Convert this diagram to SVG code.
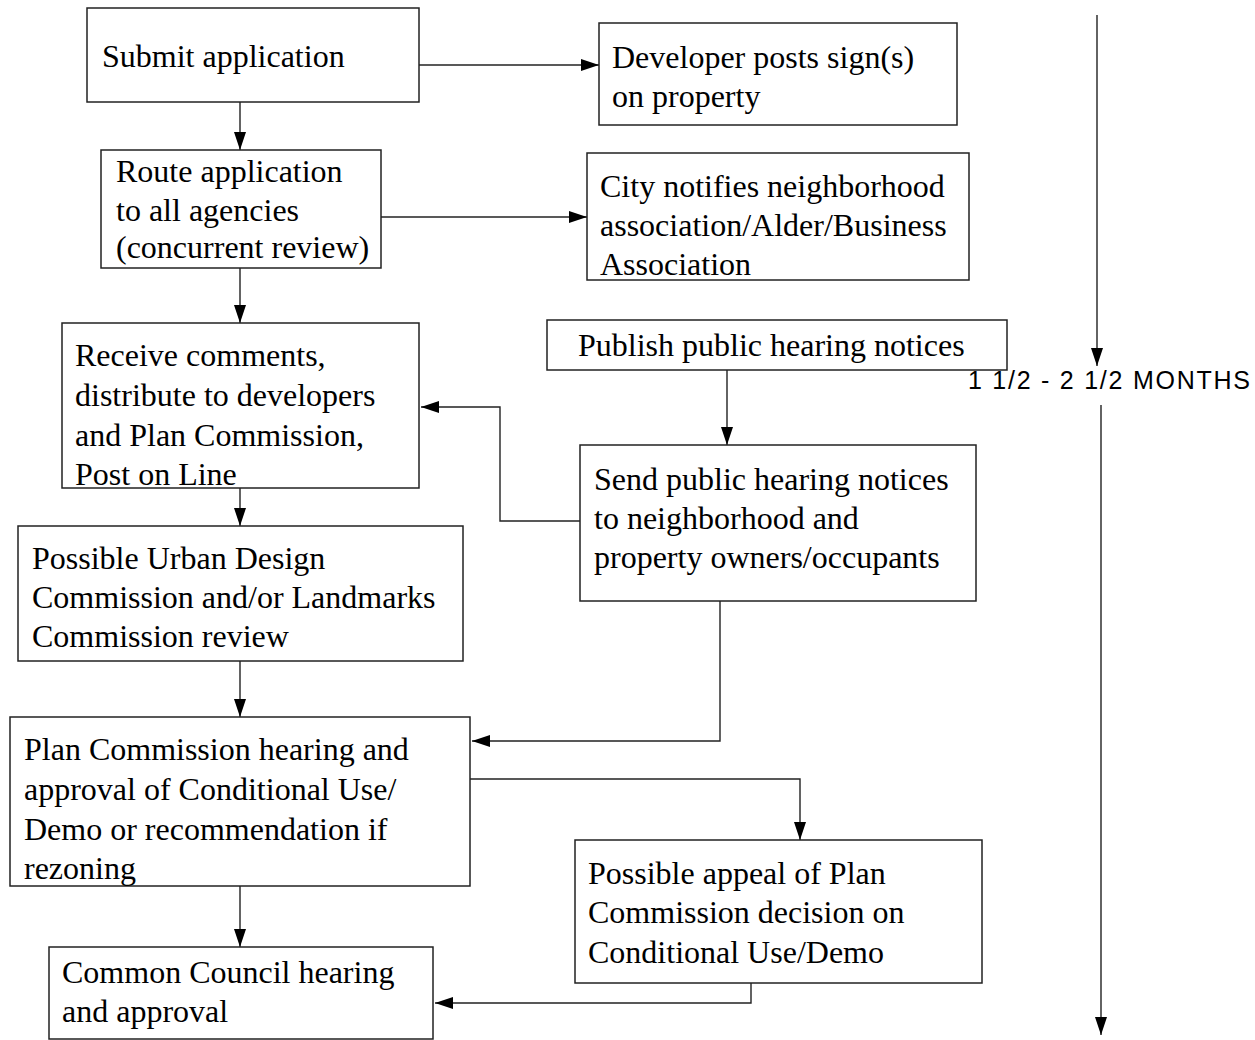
<svg xmlns="http://www.w3.org/2000/svg" width="1255" height="1040" viewBox="0 0 1255 1040">
<style>
.box{fill:#fff;stroke:#222;stroke-width:1.5}
.t{font-family:"Liberation Serif","Times New Roman",serif;font-size:32px;fill:#000}
.c{fill:none;stroke:#222;stroke-width:1.4}
.m{font-family:"Liberation Sans",Arial,sans-serif;font-size:25px;fill:#000}
</style>
<defs>
<marker id="ah" viewBox="0 0 18 12" refX="18" refY="6" markerWidth="18" markerHeight="12" markerUnits="userSpaceOnUse" orient="auto">
<path d="M0,0 L18,6 L0,12 Z" fill="#000"/>
</marker>
</defs>
<rect width="1255" height="1040" fill="#fff"/>
<g id="connectors">
<path class="c" d="M240,102 V150" marker-end="url(#ah)"/>
<path class="c" d="M419,65 H599" marker-end="url(#ah)"/>
<path class="c" d="M381,217 H587" marker-end="url(#ah)"/>
<path class="c" d="M240,268 V323" marker-end="url(#ah)"/>
<path class="c" d="M727,370 V445" marker-end="url(#ah)"/>
<path class="c" d="M580,521 H500 V407 H421" marker-end="url(#ah)"/>
<path class="c" d="M240,488 V526" marker-end="url(#ah)"/>
<path class="c" d="M240,661 V717" marker-end="url(#ah)"/>
<path class="c" d="M720,601 V741 H472" marker-end="url(#ah)"/>
<path class="c" d="M470,779 H800 V840" marker-end="url(#ah)"/>
<path class="c" d="M240,886 V947" marker-end="url(#ah)"/>
<path class="c" d="M751,983 V1003 H435" marker-end="url(#ah)"/>
<path class="c" d="M1097,15 V366" marker-end="url(#ah)"/>
<path class="c" d="M1101,405 V1035" marker-end="url(#ah)"/>
</g>
<g id="submit"><rect class="box" x="87" y="8" width="332" height="94"/><text class="t" x="102" y="67">Submit application</text></g>
<g id="developer"><rect class="box" x="599" y="23" width="358" height="102"/><text class="t" x="612" y="68">Developer posts sign(s)</text><text class="t" x="612" y="107">on property</text></g>
<g id="route"><rect class="box" x="101" y="150" width="280" height="118"/><text class="t" x="116" y="182">Route application</text><text class="t" x="116" y="221">to all agencies</text><text class="t" x="116" y="258" font-size="28">(concurrent review)</text></g>
<g id="city"><rect class="box" x="587" y="153" width="382" height="127"/><text class="t" x="600" y="197">City notifies neighborhood</text><text class="t" x="600" y="236">association/Alder/Business</text><text class="t" x="600" y="275">Association</text></g>
<g id="receive"><rect class="box" x="62" y="323" width="357" height="165"/><text class="t" x="75" y="366">Receive comments,</text><text class="t" x="75" y="406">distribute to developers</text><text class="t" x="75" y="446">and Plan Commission,</text><text class="t" x="75" y="485">Post on Line</text></g>
<g id="publish"><rect class="box" x="547" y="320" width="460" height="50"/><text class="t" x="578" y="356">Publish public hearing notices</text></g>
<g id="send"><rect class="box" x="580" y="445" width="396" height="156"/><text class="t" x="594" y="490">Send public hearing notices</text><text class="t" x="594" y="529">to neighborhood and</text><text class="t" x="594" y="568">property owners/occupants</text></g>
<g id="urban"><rect class="box" x="18" y="526" width="445" height="135"/><text class="t" x="32" y="569">Possible Urban Design</text><text class="t" x="32" y="608">Commission and/or Landmarks</text><text class="t" x="32" y="647">Commission review</text></g>
<g id="plan"><rect class="box" x="10" y="717" width="460" height="169"/><text class="t" x="24" y="760">Plan Commission hearing and</text><text class="t" x="24" y="800">approval of Conditional Use/</text><text class="t" x="24" y="840">Demo or recommendation if</text><text class="t" x="24" y="879">rezoning</text></g>
<g id="appeal"><rect class="box" x="575" y="840" width="407" height="143"/><text class="t" x="588" y="884">Possible appeal of Plan</text><text class="t" x="588" y="923">Commission decision on</text><text class="t" x="588" y="963">Conditional Use/Demo</text></g>
<g id="common"><rect class="box" x="49" y="947" width="384" height="92"/><text class="t" x="62" y="983">Common Council hearing</text><text class="t" x="62" y="1022">and approval</text></g>
<g id="timeline"><text class="m" x="968" y="389" textLength="282" lengthAdjust="spacing">1 1/2 - 2 1/2 MONTHS</text></g>
</svg>
